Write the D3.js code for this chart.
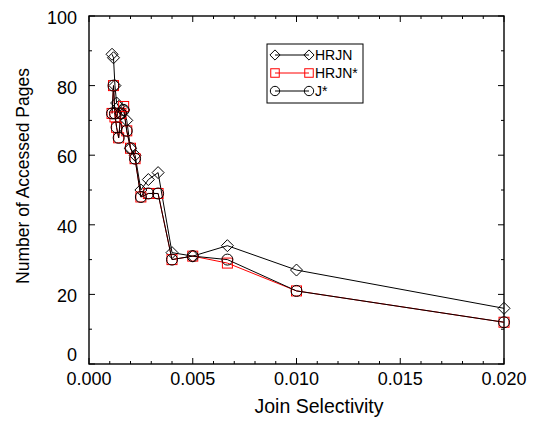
<!DOCTYPE html>
<html><head><meta charset="utf-8">
<script src="https://cdn.jsdelivr.net/npm/d3@7"></script>
<style>body{margin:0;background:#fff}svg{display:block}text{font-family:"Liberation Sans",Arial,Helvetica,sans-serif;fill:#000}</style>
</head><body><svg id="c" width="537" height="421"></svg>
<script>
const selectivity = [0.00111,0.00118,0.00125,0.00133,0.00143,0.00154,0.00167,0.00182,0.00200,0.00222,0.00250,0.00286,0.00333,0.00400,0.00500,0.00667,0.01000,0.02000];
const hrjn      = [89,88,80,75,74,72,73,70,62,60,50,53,55,32,31,34,27,16];
const hrjnStar  = [72,80,71,68,65,72,74,67,62,59,48,49,49,30,31,29,21,12];
const jStar     = [72,80,72,68,65,72,73,67,62,59,48,49,49,30,31,30,21,12];
const seriesNames = ["HRJN","HRJN*","J*"];
const xTicks = [0,0.005,0.01,0.015,0.02];
const xTickLabels = ["0.000","0.005","0.010","0.015","0.020"];
const yTicks = [0,20,40,60,80,100];

const svg = d3.select("#c");
const L=89,R=504,T=16,B=364;
const x = d3.scaleLinear().domain([0,0.02]).range([L,R]);
const y = d3.scaleLinear().domain([0,100]).range([B,T]);

const g = svg.append("g");
const minorX = d3.range(0,0.0201,0.001);
const minorY = d3.range(0,101,10);
minorX.forEach(v=>{
  const major = Math.abs(v/0.005-Math.round(v/0.005))<1e-6;
  const len = major?6:3;
  g.append("line").attr("x1",x(v)).attr("x2",x(v)).attr("y1",B).attr("y2",B-len).attr("stroke","#000");
  g.append("line").attr("x1",x(v)).attr("x2",x(v)).attr("y1",T).attr("y2",T+len).attr("stroke","#000");
});
minorY.forEach(v=>{
  const major = v%20===0;
  const len = major?6:3;
  g.append("line").attr("y1",y(v)).attr("y2",y(v)).attr("x1",L).attr("x2",L+len).attr("stroke","#000");
  g.append("line").attr("y1",y(v)).attr("y2",y(v)).attr("x1",R).attr("x2",R-len).attr("stroke","#000");
});
g.append("rect").attr("x",L).attr("y",T).attr("width",R-L).attr("height",B-T).attr("fill","none").attr("stroke","#000").attr("stroke-width",1.4);

xTicks.forEach((v,i)=>{
  svg.append("text").attr("x",x(v)).attr("y",385).attr("text-anchor","middle").attr("font-size",18).text(xTickLabels[i]);
});
yTicks.forEach(v=>{
  const off = v===0 ? -3 : 8;
  svg.append("text").attr("x",77).attr("y",y(v)+off).attr("text-anchor","end").attr("font-size",18).text(v);
});
svg.append("text").attr("x",319).attr("y",413).attr("text-anchor","middle").attr("font-size",19.5).text("Join Selectivity");
svg.append("text").attr("transform","translate(29,176) rotate(-90)").attr("text-anchor","middle").attr("font-size",17.5).text("Number of Accessed Pages");

const series = [
  {name:seriesNames[0], vals:hrjn, line:"#000", mark:"#000", shape:"diamond"},
  {name:seriesNames[1], vals:hrjnStar, line:"#ff0000", mark:"#ff0000", shape:"square"},
  {name:seriesNames[2], vals:jStar, line:"#000", mark:"#000", shape:"circle"}
];
function drawMarker(sel, shape, cx, cy, color, k){
  k = k||1;
  if(shape==="diamond"){
    const h=6*k;
    sel.append("path").attr("d",`M${cx},${cy-h}L${cx+h},${cy}L${cx},${cy+h}L${cx-h},${cy}Z`).attr("fill","none").attr("stroke",color);
  } else if(shape==="square"){
    const h=5*k;
    sel.append("rect").attr("x",cx-h).attr("y",cy-h).attr("width",2*h).attr("height",2*h).attr("fill","none").attr("stroke",color);
  } else {
    sel.append("circle").attr("cx",cx).attr("cy",cy).attr("r",5.5*k).attr("fill","none").attr("stroke",color);
  }
}
const line = d3.line().x(d=>x(d[0])).y(d=>y(d[1]));
series.forEach(s=>{
  const pts = selectivity.map((v,i)=>[v,s.vals[i]]);
  svg.append("path").attr("d",line(pts)).attr("fill","none").attr("stroke",s.line).attr("stroke-width",1);
});
series.forEach(s=>{
  const mg = svg.append("g");
  selectivity.forEach((v,i)=>drawMarker(mg,s.shape,x(v),y(s.vals[i]),s.mark));
});

const lg = svg.append("g");
lg.append("rect").attr("x",267).attr("y",44).attr("width",96).attr("height",59).attr("fill","#fff").attr("stroke","#000");
series.forEach((s,i)=>{
  const yy = 55+i*18;
  lg.append("line").attr("x1",275).attr("x2",309).attr("y1",yy).attr("y2",yy).attr("stroke",s.line);
  drawMarker(lg,s.shape,275,yy,s.mark,0.85);
  drawMarker(lg,s.shape,309,yy,s.mark,0.85);
  lg.append("text").attr("x",315).attr("y",yy+5).attr("font-size",14).text(s.name);
});
</script></body></html>
